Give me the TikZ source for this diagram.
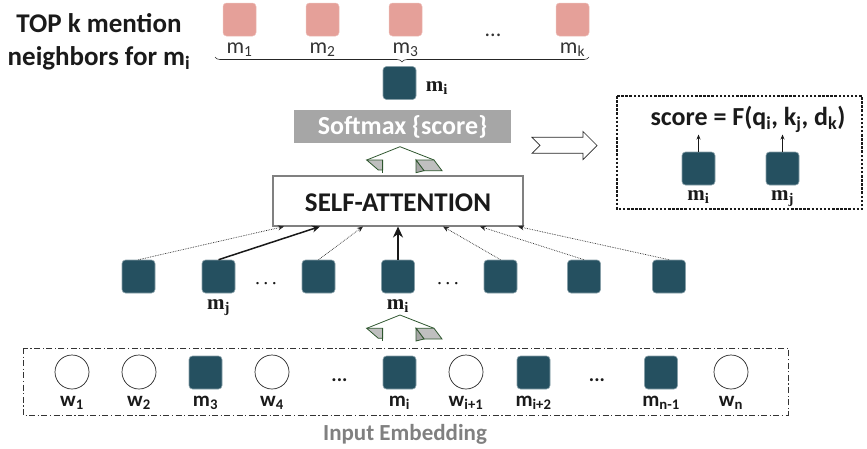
\documentclass[tikz,border=0pt]{standalone}
\usepackage{fontspec}
\setmainfont{Carlito}
\newfontfamily\tnr{Liberation Serif}
\usetikzlibrary{arrows.meta,decorations.pathreplacing}
\definecolor{tealm}{RGB}{37,80,96}
\definecolor{pinkm}{RGB}{229,160,153}
\definecolor{sgray}{RGB}{166,166,166}
\definecolor{dgreen}{RGB}{45,85,45}
\definecolor{txtc}{RGB}{26,26,26}
\begin{document}
\begin{tikzpicture}[x=1pt,y=-1pt,
  msq/.style={draw=tealm!55!white, line width=0.6pt, fill=tealm, rounded corners=3.5pt, minimum width=33pt, minimum height=33pt, inner sep=0pt},
  psq/.style={fill=pinkm, draw=pinkm!70!white, line width=0.5pt, rounded corners=3.5pt, minimum width=33pt, minimum height=33pt, inner sep=0pt},
  wcirc/.style={circle, draw=black!85, line width=0.7pt, minimum size=34pt, inner sep=0pt},
  toplbl/.style={anchor=base, text=black!80, font=\fontsize{22}{24}\selectfont},
  botlbl/.style={anchor=base, text=txtc, font=\fontsize{21}{23}\selectfont\bfseries},
  serlbl/.style={anchor=base, text=txtc, font=\tnr\fontsize{21}{23}\selectfont\bfseries},
  bigtxt/.style={anchor=base, text=txtc, font=\fontsize{27}{30}\selectfont\bfseries},
  att/.style={densely dotted, line width=0.7pt, black!85, -{Stealth[length=6pt,width=5pt]}},
  splitarr/.pic={
    \draw[dgreen, line width=0.8pt] (-33.3,13.3) -- (0,0) -- (34,13.3);
    \filldraw[draw=dgreen, fill=black!25, line width=0.8pt] (-33.3,13.3) -- (-17.3,13.3) -- (-17.3,23.3) -- (-21.7,23.3) -- cycle;
    \draw[dgreen, line width=0.8pt] (-17.3,13.3) -- (-17.3,26);
    \filldraw[draw=dgreen, fill=black!25, line width=0.8pt] (16,13.3) -- (34,13.3) -- (42,24) -- (24,24) -- cycle;
    \filldraw[draw=dgreen, fill=black!35, line width=0.8pt] (16,13.3) -- (24,24) -- (16,26) -- cycle;
  }]
\useasboundingbox (0,0) rectangle (867,448);

% Title
\node[bigtxt] (t1) at (99,32) {TOP k mention};
\node[bigtxt] (t2) at (99,65) {neighbors for m\textsubscript{i}};

% Top neighbors
\node[psq] (p1) at (239.5,19.5) {};
\node[psq] (p2) at (322.5,19.5) {};
\node[psq] (p3) at (405.5,19.5) {};
\node[psq] (pk) at (572.5,19.5) {};
\node[toplbl] (lp1) at (239.5,53) {m\textsubscript{1}};
\node[toplbl] (lp2) at (322.5,53) {m\textsubscript{2}};
\node[toplbl] (lp3) at (405.5,53) {m\textsubscript{3}};
\node[toplbl] (lpk) at (572.5,53) {m\textsubscript{k}};
\node[toplbl] (pdots) at (493,36) {...};
\coordinate (bra) at (215,57);
\coordinate (brb) at (589,57);
\draw[black!85, line width=0.6pt, decorate, decoration={brace, mirror, amplitude=5pt}] (bra) -- (brb);

\node[msq] (mt) at (399.5,83) {};
\node[serlbl] (lmt) at (437,91) {m\textsubscript{i}};

% Softmax
\node[fill=sgray, minimum width=217pt, minimum height=33pt, inner sep=0pt, text=white, font=\fontsize{26}{28}\selectfont\bfseries] (sm) at (402.5,126.5) {Softmax \{score\}};

\pic at (400,146.7) {splitarr};

% hollow arrow
\draw[black!85, line width=0.7pt, fill=white] (532,137.3) -- (583,137.3) -- (583,131.5) -- (597,145.5) -- (583,159.5) -- (583,153.3) -- (532,153.3) -- (540,145.3) -- cycle;

% score box
\draw[black!90, line width=1.2pt, dash pattern=on 2.5pt off 1.6pt] (617,96) rectangle (862,209);
\node[bigtxt, font=\fontsize{26}{28}\selectfont\bfseries] (sc) at (748,125) {score = F(q\textsubscript{i}, k\textsubscript{j}, d\textsubscript{k})};
\node[msq] (si) at (698.5,168.5) {};
\node[msq] (sj) at (782.5,168.5) {};
\node[serlbl] (lsi) at (698.5,200) {m\textsubscript{i}};
\node[serlbl] (lsj) at (782.5,200) {m\textsubscript{j}};
\coordinate (sit) at (698.5,134.5);
\coordinate (sjt) at (782.5,134.5);
\draw[black!90, line width=0.7pt, -{Stealth[length=5pt,width=4pt]}] (si.north) -- (sit);
\draw[black!90, line width=0.7pt, -{Stealth[length=5pt,width=4pt]}] (sj.north) -- (sjt);

% Self attention
\node[draw=black!50, line width=1.3pt, fill=white, minimum width=250pt, minimum height=50pt, inner sep=0pt] (sa) at (398,201) {};
\node[bigtxt] (satxt) at (398,211) {SELF-ATTENTION};

% middle row
\node[msq] (r1) at (138.5,276.5) {};
\node[msq] (r2) at (218.5,276.5) {};
\node[msq] (r3) at (318.5,276.5) {};
\node[msq] (r4) at (398,276.5) {};
\node[msq] (r5) at (500.5,276.5) {};
\node[msq] (r6) at (584,276.5) {};
\node[msq] (r7) at (669,276.5) {};
\node[anchor=base, font=\tnr\fontsize{20}{22}\selectfont, text=txtc] (d1) at (266,284) {.\,.\,.};
\node[anchor=base, font=\tnr\fontsize{20}{22}\selectfont, text=txtc] (d2) at (448,284) {.\,.\,.};
\node[serlbl] (lr2) at (218.5,309) {m\textsubscript{j}};
\node[serlbl] (lr4) at (398,309) {m\textsubscript{i}};

\coordinate (a1) at (284,226.5);
\coordinate (a2) at (320,226.5);
\coordinate (a3) at (363,226.5);
\coordinate (a4) at (398,226.5);
\coordinate (a5) at (443,226.5);
\coordinate (a6) at (480,226.5);
\coordinate (a7) at (518,226.5);
\draw[att] (r1.north) -- (a1);
\draw[line width=1.5pt, black!90, -{Stealth[length=8pt,width=7pt]}] (r2.north) -- (a2);
\draw[att] (r3.north) -- (a3);
\draw[line width=2.4pt, black!90, -{Stealth[length=11pt,width=10pt]}] (r4.north) -- (a4);
\draw[att] (r5.north) -- (a5);
\draw[att] (r6.north) -- (a6);
\draw[att] (r7.north) -- (a7);

\pic at (400,315) {splitarr};

% input embedding
\draw[black!80, line width=0.7pt, dash pattern=on 6pt off 2.5pt on 1.2pt off 2.5pt] (23,348) rectangle (788,415);
\node[wcirc] (w1) at (72,372) {};
\node[wcirc] (w2) at (139,372) {};
\node[msq] (m3) at (205.5,372.5) {};
\node[wcirc] (w4) at (272,372) {};
\node[anchor=base, text=txtc, font=\fontsize{20}{22}\selectfont\bfseries] (bd1) at (339.5,381) {...};
\node[msq] (mi) at (399.5,372.5) {};
\node[wcirc] (wi1) at (466,372) {};
\node[msq] (mi2) at (533.5,372.5) {};
\node[anchor=base, text=txtc, font=\fontsize{20}{22}\selectfont\bfseries] (bd2) at (597,381) {...};
\node[msq] (mn1) at (661,372.5) {};
\node[wcirc] (wn) at (731,372) {};
\node[botlbl] (lw1) at (72,406.5) {w\textsubscript{1}};
\node[botlbl] (lw2) at (139,406.5) {w\textsubscript{2}};
\node[botlbl] (lm3) at (205.5,406.5) {m\textsubscript{3}};
\node[botlbl] (lw4) at (272,406.5) {w\textsubscript{4}};
\node[botlbl] (lmi) at (399.5,406.5) {m\textsubscript{i}};
\node[botlbl] (lwi1) at (466,406.5) {w\textsubscript{i+1}};
\node[botlbl] (lmi2) at (533.5,406.5) {m\textsubscript{i+2}};
\node[botlbl] (lmn1) at (661,406.5) {m\textsubscript{n-1}};
\node[botlbl] (lwn) at (731,406.5) {w\textsubscript{n}};
\node[anchor=base, text=black!50, font=\fontsize{23}{25}\selectfont\bfseries] (ie) at (405,440) {Input Embedding};
\end{tikzpicture}
\end{document}
